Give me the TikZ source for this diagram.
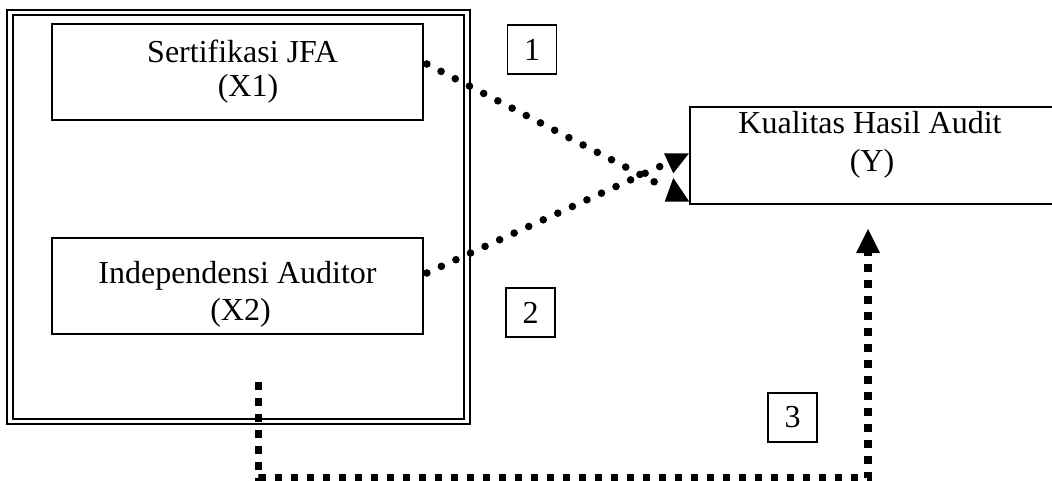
\documentclass[tikz,border=0pt]{standalone}
\usepackage{fontspec}
\setmainfont{Liberation Serif}[Ligatures=CommonOff]
\usetikzlibrary{arrows.meta}
\begin{document}
\begin{tikzpicture}[x=1pt,y=-1pt,
  every node/.style={font=\fontsize{32}{36}\selectfont},
  box/.style={draw, line width=1.7pt, minimum width=371pt, minimum height=96pt, inner sep=0pt},
  numbox/.style={draw, line width=1.5pt, minimum size=49pt, inner sep=0pt},
  txt/.style={anchor=base, inner sep=0pt},
  dotline/.style={line width=7.6pt, line cap=round, dash pattern=on 0pt off 16pt},
  sqline/.style={line width=7.6pt, dash pattern=on 7.6pt off 8.4pt},
  tip/.style={fill=black}]
\useasboundingbox (0,0) rectangle (1052,481);
\clip (0,0) rectangle (1052,481);

% double frame around the two independent variables
\node[draw, double, line width=2pt, double distance=3.5pt,
      minimum width=457pt, minimum height=409pt, inner sep=0pt] (frame) at (238.5,217) {};

% variable boxes
\node[box] (X1) at (237.5,72) {};
\node[box] (X2) at (237.5,286) {};
\node[box, line width=2.5pt, minimum width=372pt, minimum height=97pt] (Y) at (876,155.5) {};

\node[txt] (x1a) at (242.5,62.3) {Sertifikasi JFA};
\node[txt] (x1b) at (248,96.7) {(X1)};
\node[txt] (x2a) at (237.5,283.3) {Independensi Auditor};
\node[txt] (x2b) at (240.5,320) {(X2)};
\node[txt] (ya) at (870,134) {Kualitas Hasil Audit};
\node[txt] (yb) at (872,171.7) {(Y)};

% hypothesis numbers
\node[numbox] (n1) at (532,49.5) {1};
\node[numbox] (n2) at (530.5,312.5) {2};
\node[numbox] (n3) at (792.5,417.5) {3};

% partial effects (round dotted)
\coordinate (e1) at (668,189);
\coordinate (e2) at (661,166);
\draw[dotline] ([shift={(3,-8)}]X1.east) -- (e1);
\draw[dotline] ([shift={(3,-13)}]X2.east) -- (e2);
\fill[tip] (664,153.3) -- (689,153.3) -- (673.3,173.3) -- cycle;
\fill[tip] (673.3,178) -- (689.3,201.7) -- (664.7,201.7) -- cycle;

% simultaneous effect (square dotted)
\coordinate (s3) at (258.5,382);
\coordinate (t3) at (868,229);
\draw[sqline, -{Triangle[length=24pt,width=24pt,line width=0pt]}]
  (s3) -- ++(0,96) -| (t3);
\end{tikzpicture}
\end{document}
